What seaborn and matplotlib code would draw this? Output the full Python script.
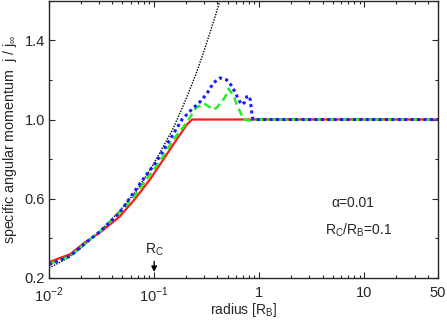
import matplotlib
matplotlib.use('Agg')
import matplotlib.pyplot as plt
from matplotlib.ticker import LogLocator, NullFormatter
import seaborn as sns

# values
red_x = [0.01, 0.0159, 0.022, 0.0306, 0.047, 0.066, 0.092, 0.123, 0.164, 0.205, 0.23, 1.0, 50]
red_y = [0.28, 0.32, 0.38, 0.43, 0.51, 0.60, 0.70, 0.80, 0.90, 0.975, 1.0, 1.0, 1.0]

green_x = [0.01, 0.0159, 0.022, 0.0306, 0.047, 0.0635, 0.085, 0.114, 0.153, 0.205, 0.25, 0.30,
           0.366, 0.395, 0.44, 0.47, 0.51, 0.57, 0.62, 0.67, 0.71, 0.82, 1.0, 50]
green_y = [0.27, 0.31, 0.375, 0.435, 0.53, 0.605, 0.70, 0.79, 0.90, 0.985, 1.06, 1.08,
           1.05, 1.06, 1.093, 1.11, 1.156, 1.118, 1.067, 1.03, 1.0, 0.995, 1.0, 1.0]

blue_x = [0.01, 0.0159, 0.022, 0.0306, 0.047, 0.059, 0.079, 0.106, 0.142, 0.184, 0.227, 0.274,
          0.317, 0.366, 0.424, 0.49, 0.55, 0.59, 0.636, 0.68, 0.72, 0.76, 0.795, 0.82, 0.85, 0.87, 1.0, 50]
blue_y = [0.268, 0.31, 0.375, 0.435, 0.53, 0.605, 0.70, 0.79, 0.90, 1.0, 1.05, 1.09,
          1.13, 1.185, 1.21, 1.20, 1.168, 1.135, 1.10, 1.075, 1.085, 1.115, 1.12, 1.10, 1.03, 1.0, 1.0, 1.0]

black_x = [0.01, 0.015, 0.02, 0.03, 0.05, 0.07, 0.1, 0.15, 0.2, 0.25, 0.3, 0.37, 0.44]
black_y = [0.25, 0.30, 0.35, 0.43, 0.555, 0.65, 0.78, 0.95, 1.10, 1.23, 1.35, 1.50, 1.63]

sns.set_style('ticks')
plt.rcParams['font.family'] = ['Liberation Sans', 'DejaVu Sans']
plt.rcParams['mathtext.fontset'] = 'custom'
plt.rcParams['mathtext.rm'] = 'Liberation Sans'

fig = plt.figure(figsize=(4.47, 3.21), dpi=100)
ax = fig.add_axes([0.1096, 0.134, 0.8702, 0.864])

sns.lineplot(x=black_x, y=black_y, ax=ax, color='black', lw=1.0, linestyle=(0, (1, 1)), sort=False)
sns.lineplot(x=red_x, y=red_y, ax=ax, color='#ff1a1a', lw=1.6, sort=False)
sns.lineplot(x=green_x, y=green_y, ax=ax, color='#22ee22', lw=1.8, linestyle=(0, (3, 1.8)), sort=False)
sns.lineplot(x=blue_x, y=blue_y, ax=ax, color='#1a1aff', lw=2.2, linestyle=(0, (1, 1.1)), sort=False)

ax.set_xscale('log')
ax.set_xlim(0.01, 50)
ax.set_ylim(0.2, 1.6)

ax.set_xticks([0.01, 0.1, 1, 10, 50])
ax.set_xticklabels(['10$^{-2}$', '10$^{-1}$', '1', '10', '50'])
ax.xaxis.set_minor_locator(LogLocator(base=10, subs=range(2, 10), numticks=20))
ax.xaxis.set_minor_formatter(NullFormatter())
ax.set_yticks([0.2, 0.6, 1.0, 1.4])
ax.set_yticklabels(['0.2', '0.6', '1.0', '1.4'])
ax.set_yticks([0.4, 0.8, 1.2], minor=True)
ax.tick_params(which='both', direction='in', top=True, right=True, labelsize=10.5, pad=3)
ax.tick_params(axis='x', which='major', pad=5.5)
ax.tick_params(which='major', length=4, width=0.8)
ax.tick_params(which='minor', length=2.5, width=0.8)
for s in ax.spines.values():
    s.set_linewidth(1.0)

ax.set_xlabel('radius [R$_\\mathregular{B}$]', fontsize=10)
ax.xaxis.set_label_coords(0.5, -0.082)
ax.set_ylabel('specific angular momentum  j / j$_\\infty$', fontsize=10.3, labelpad=4)

ax.text(0.78, 0.27, '\u03b1=0.01', transform=ax.transAxes, ha='center', va='center', fontsize=10)
ax.text(0.795, 0.173, 'R$_\\mathregular{C}$/R$_\\mathregular{B}$=0.1', transform=ax.transAxes,
        ha='center', va='center', fontsize=10)
ax.annotate('R$_\\mathregular{C}$', xy=(0.1, 0.23), xytext=(0.1, 0.30), ha='center', va='bottom', fontsize=10,
            arrowprops=dict(arrowstyle='-|>', color='black', lw=1.0, mutation_scale=8, shrinkA=0, shrinkB=0))

fig.savefig('out.png', dpi=100)
